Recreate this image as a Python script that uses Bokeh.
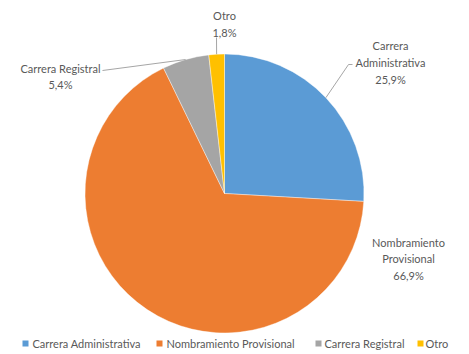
import numpy as np
from bokeh.plotting import figure
from bokeh.models import Range1d, ColumnDataSource
from bokeh.embed import file_html
from bokeh.resources import INLINE
from bokeh.core.properties import value

# ---- data ----
categories = ["Carrera Administrativa", "Nombramiento Provisional", "Carrera Registral", "Otro"]
percent = [25.9, 66.9, 5.4, 1.8]
pct_labels = ["25,9%", "66,9%", "5,4%", "1,8%"]
label_names = ["Carrera\nAdministrativa", "Nombramiento\nProvisional", "Carrera Registral", "Otro"]
colors = ["#5B9BD5", "#ED7D31", "#A5A5A5", "#FFC000"]

# ---- layout (picture px coordinates; Y = 354 - py) ----
W, H = 469, 354
FONT = "Lato"
TXT = "#595959"

def Y(py):
    return H - py

cx, cy, r = 224, Y(193), 139.5

p = figure(width=W, height=H, output_backend="svg", toolbar_location=None,
           x_range=Range1d(0, W), y_range=Range1d(0, H),
           min_border=0, min_border_left=0, min_border_right=0,
           min_border_top=0, min_border_bottom=0)
p.axis.visible = False
p.grid.visible = False
p.outline_line_color = None
p.background_fill_color = "white"
p.border_fill_color = "white"

frac = np.array(percent) / sum(percent)
cum = np.concatenate([[0], np.cumsum(frac)])
start = np.pi / 2 - 2 * np.pi * cum[:-1]
end = np.pi / 2 - 2 * np.pi * cum[1:]
mid = (start + end) / 2

src = ColumnDataSource(dict(start=start, end=end, color=colors, cat=categories))
p.wedge(x=cx, y=cy, radius=r, start_angle="start", end_angle="end",
        direction="clock", fill_color="color", line_color="white", line_width=0.4,
        source=src)

# data labels (positions are layout)
lab_pos = [(390, 62), (408, 258.5), (60, 76), (224, 23.5)]
texts = [f"{n}\n{v}" for n, v in zip(label_names, pct_labels)]
p.text(x=[q[0] for q in lab_pos], y=[Y(q[1]) for q in lab_pos], text=texts,
       text_align="center", text_baseline="middle",
       text_font=value(FONT), text_font_size="11px", text_color=TXT,
       text_line_height=1.3)

# leader lines: from pie edge (data angle) to label anchor
anchors = {0: [(348, 64), (352, 64)], 2: [(102, 70)], 3: [(216, 37)]}
for i, pts in anchors.items():
    ex = cx + r * np.cos(mid[i])
    ey = cy + r * np.sin(mid[i])
    xs = [ex] + [q[0] for q in pts]
    ys = [ey] + [Y(q[1]) for q in pts]
    p.line(xs, ys, line_color="#A6A6A6", line_width=1)

# legend
sq_x = [25, 159, 318, 420]
tx_x = [32, 166, 324, 425]
ly = Y(343)
p.rect(x=sq_x, y=[ly] * 4, width=6, height=6, fill_color=colors, line_color=None)
p.text(x=tx_x, y=[ly] * 4, text=categories, text_align="left", text_baseline="middle",
       text_font=value(FONT), text_font_size="11px", text_color=TXT)

open("out.html", "w").write(file_html(p, INLINE))
